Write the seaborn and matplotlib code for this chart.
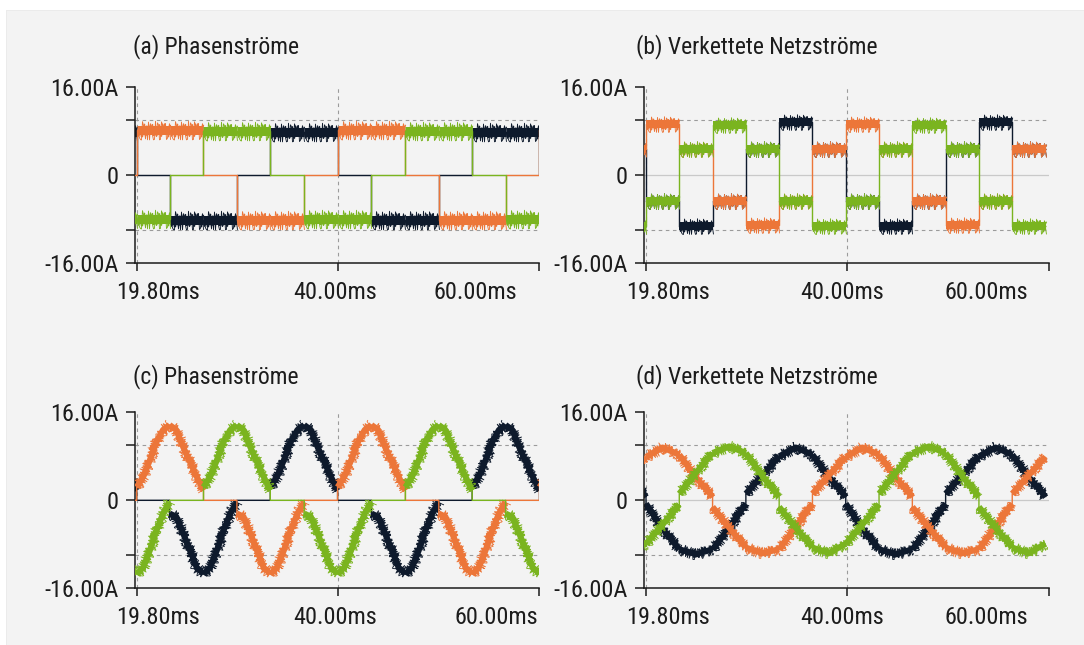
import numpy as np
import matplotlib
matplotlib.use("Agg")
import matplotlib.pyplot as plt
from matplotlib.patches import Rectangle
import seaborn as sns

# ---------------------------------------------------------------------------
# Time base: boundaries of the 60-degree commutation steps (ms).  The first
# step starts before the visible window so every trace reaches the left spine.
# ---------------------------------------------------------------------------
step_edges_left = [16.4, 19.8, 23.1, 26.5, 29.85, 33.2, 36.6, 39.95,
                   43.35, 46.75, 50.1, 53.45, 56.8, 60.2, 63.6]
step_edges_right = [16.45, 19.8, 23.15, 26.5, 29.85, 33.2, 36.55, 39.9,
                    43.25, 46.6, 49.95, 53.3, 56.65, 60.0]
first_step_index = 5            # position of the first step in the 6-step cycle

# drawing order: L3 (navy) first, then L1 (orange), then L2 (green)
phase_order = ["L3", "L1", "L2"]
phase_colors = {"L1": "#EC7639", "L2": "#7AB41F", "L3": "#0E1A2C"}

# conduction pattern of the phase currents per step (+1 / 0 / -1)
cond_L1 = [1, 1, 0, -1, -1, 0]
cond_L2 = [-1, 0, 1, 1, 0, -1]
cond_L3 = [0, -1, -1, 0, 1, 1]

# (a) block-shaped phase currents: positive / negative block level (A)
a_pos = [8.1, 8.0, 7.8]         # L1, L2, L3
a_neg = [-8.3, -8.0, -8.2]

# (b) line currents with block phase currents, level per step (A)
b_L1 = [9.3, 4.7, -4.7, -9.2, -4.7, 4.7]
b_L2 = [-4.7, 4.7, 9.1, 4.7, -4.7, -9.3]
b_L3 = [-4.8, -9.4, -4.7, 4.7, 9.5, 4.7]

# (c) sinusoidal phase-current pulse, sampled every 10 % of a 120-degree block (A)
c_hump_pos = [2.4, 4.3, 7.3, 10.6, 12.8, 13.7, 12.8, 9.7, 7.0, 4.3, 1.8]
c_hump_neg = [-2.4, -3.0, -6.0, -9.1, -12.2, -13.4, -12.2, -9.1, -5.5, -2.4, -0.3]

# (d) line currents with sinusoidal phase currents: start / middle / end of each step (A)
d_L1 = [[7.9, 9.6, 8.3], [8.3, 4.2, 0.6], [-1.2, -5.0, -8.6],
        [-8.6, -9.6, -8.9], [-8.9, -4.8, -0.6], [1.2, 4.6, 7.9]]
d_L2 = [[-7.9, -4.4, -0.8], [1.2, 5.0, 8.6], [8.6, 9.8, 8.6],
        [8.6, 4.4, 0.6], [-1.2, -5.0, -8.6], [-8.6, -9.6, -7.9]]
d_L3 = [[-0.6, -5.2, -8.9], [-8.9, -9.8, -8.9], [-8.9, -5.0, -0.6],
        [1.2, 4.6, 8.0], [8.0, 9.6, 8.3], [8.3, 4.2, 0.6]]

titles = ["(a) Phasenströme", "(b) Verkettete Netzströme",
          "(c) Phasenströme", "(d) Verkettete Netzströme"]
y_ticks = [-16, -10, 0, 10, 16]
y_tick_labels = ["-16.00A", "", "0", "", "16.00A"]
x_tick_labels = ["19.80ms", "40.00ms", "60.00ms"]
x_label_pos = [[21.94, 39.73, 53.8], [22.06, 39.58, 54.0],
               [21.94, 39.73, 55.9], [22.06, 39.58, 54.0]]
x_limits = [(19.63, 60.15), (19.6, 60.35), (19.63, 60.15), (19.6, 60.35)]

# measurement noise look per panel: solid core width, inner and outer ripple (px)
noise_style = [(9, 6.5, 9.5), (8, 5.5, 8.0), (6, 4.5, 6.0), (6, 4.5, 6.0)]


def step_iter(edges):
    for n in range(len(edges) - 1):
        yield (first_step_index + n) % 6, edges[n], edges[n + 1]


def block_trace(cond, pos, neg, edges):
    t, i, pieces = [], [], []
    for k, t0, t1 in step_iter(edges):
        lvl = pos if cond[k] > 0 else (neg if cond[k] < 0 else 0.0)
        t += [t0, t1]
        i += [lvl, lvl]
        if cond[k] != 0:
            pieces.append(([t0, t1], [lvl, lvl]))
    return t, i, pieces


def level_trace(levels, edges):
    t, i, pieces = [], [], []
    for k, t0, t1 in step_iter(edges):
        t += [t0, t1]
        i += [levels[k], levels[k]]
        pieces.append(([t0, t1], [levels[k], levels[k]]))
    return t, i, pieces


def hump_trace(cond, edges):
    t, i, pieces = [], [], []
    for k, t0, t1 in step_iter(edges):
        s = cond[k]
        if s == 0:
            tt, ii = [t0, t1], [0.0, 0.0]
        else:
            hump = c_hump_pos if s > 0 else c_hump_neg
            first_half = cond[(k - 1) % 6] != s
            ii = list(hump[:6] if first_half else hump[5:])
            tt = list(np.linspace(t0, t1, len(ii)))
            pieces.append((tt, ii))
        t += tt
        i += ii
    return t, i, pieces


def sampled_trace(vals, edges):
    t, i, pieces = [], [], []
    for k, t0, t1 in step_iter(edges):
        tt = [t0, 0.5 * (t0 + t1), t1]
        ii = list(vals[k])
        t += tt
        i += ii
        pieces.append((tt, ii))
    return t, i, pieces


PX = 0.72  # points per pixel at 100 dpi


def draw_line(ax, t, i, color, lw_px, zorder, sketch=None):
    n_before = len(ax.lines)
    sns.lineplot(x=np.asarray(t), y=np.asarray(i), color=color, estimator=None,
                 sort=False, linewidth=lw_px * PX, ax=ax, legend=False)
    for ln in ax.lines[n_before:]:
        ln.set_zorder(zorder)
        ln.set_solid_capstyle("butt")
        ln.set_solid_joinstyle("round")
        if sketch is not None:
            ln.set_sketch_params(*sketch)


def draw_phase(ax, trace, color, base_z, style):
    core_px, inner_px, outer_px = style
    t, i, pieces = trace
    draw_line(ax, t, i, color, 1.4, base_z)
    for tt, ii in pieces:
        draw_line(ax, tt, ii, color, core_px, base_z + 0.1)
        draw_line(ax, tt, ii, color, 1.4, base_z + 0.2, sketch=(inner_px, 1.5, 4.0))
        draw_line(ax, tt, ii, color, 0.9, base_z + 0.3, sketch=(outer_px, 3.0, 6.0))


sns.set_style("ticks")
plt.rcParams["font.family"] = ["Liberation Sans Narrow", "Noto Sans Condensed",
                               "Roboto Condensed", "DejaVu Sans"]
plt.rcParams["font.stretch"] = "condensed"
plt.rcParams["text.color"] = "#1c1c1c"

W, H = 1084, 645
fig = plt.figure(figsize=(W / 100, H / 100), dpi=100, facecolor="white")
fig.patches.append(Rectangle((6 / W, 0), 1, 1 - 10 / H, transform=fig.transFigure,
                             facecolor="#ebebeb", edgecolor="none", zorder=-20))
fig.patches.append(Rectangle((7 / W, 0), 1, 1 - 11 / H, transform=fig.transFigure,
                             facecolor="#f3f3f3", edgecolor="none", zorder=-19))

ax_boxes = [(135, 86.7, 404, 176), (644, 86.7, 405, 176),
            (135, 412.3, 404, 176), (644, 412.3, 405, 176)]
title_pos = [(133, 53.3), (636, 53.3), (133, 383.3), (636, 383.3)]

conds = {"L1": cond_L1, "L2": cond_L2, "L3": cond_L3}
idx = {"L1": 0, "L2": 1, "L3": 2}
b_levels = {"L1": b_L1, "L2": b_L2, "L3": b_L3}
d_values = {"L1": d_L1, "L2": d_L2, "L3": d_L3}

for p in range(4):
    x0, y0, w, h = ax_boxes[p]
    ax = fig.add_axes([x0 / W, 1 - (y0 + h) / H, w / W, h / H])
    ax.set_facecolor("none")
    edges = step_edges_left if p % 2 == 0 else step_edges_right

    # reference lines
    ax.axhline(0, color="#c9c9c9", lw=0.9, zorder=1)
    for yv in (-10, 10):
        ax.axhline(yv, color="#9b9b9b", lw=0.8, ls=(0, (3.2, 3.2)), zorder=1)
    for xv in (19.8, 40.0):
        ax.axvline(xv, color="#9b9b9b", lw=0.8, ls=(0, (3.2, 3.2)), zorder=1)

    for z, ph in enumerate(phase_order):
        col = phase_colors[ph]
        if p == 0:
            tr = block_trace(conds[ph], a_pos[idx[ph]], a_neg[idx[ph]], edges)
        elif p == 1:
            tr = level_trace(b_levels[ph], edges)
        elif p == 2:
            tr = hump_trace(conds[ph], edges)
        else:
            tr = sampled_trace(d_values[ph], edges)
        draw_phase(ax, tr, col, 2 + z, noise_style[p])

    xl = x_limits[p]
    ax.set_xlim(*xl)
    ax.set_ylim(-16, 16)
    ax.set_xlabel("")
    ax.set_ylabel("")
    ax.set_yticks(y_ticks, labels=y_tick_labels)
    ax.set_xticks(x_label_pos[p], labels=x_tick_labels)
    ax.set_xticks([19.8, 40.0, xl[1] - 0.01], minor=True)
    ax.tick_params(axis="y", length=6.5, width=1.1, pad=5.5, labelsize=17.5,
                   color="#1b1b1b", labelcolor="#1c1c1c")
    ax.tick_params(axis="x", which="major", length=0, pad=13, labelsize=17.5,
                   labelcolor="#1c1c1c")
    ax.tick_params(axis="x", which="minor", length=6, width=1.1, color="#1b1b1b")
    for side in ("top", "right"):
        ax.spines[side].set_visible(False)
    for side in ("left", "bottom"):
        ax.spines[side].set_linewidth(1.1)
        ax.spines[side].set_color("#1b1b1b")

    tx, ty = title_pos[p]
    fig.text(tx / W, 1 - ty / H, titles[p], ha="left", va="baseline",
             fontsize=17, color="#1c1c1c")

fig.savefig("out.png", dpi=100, facecolor="white")
